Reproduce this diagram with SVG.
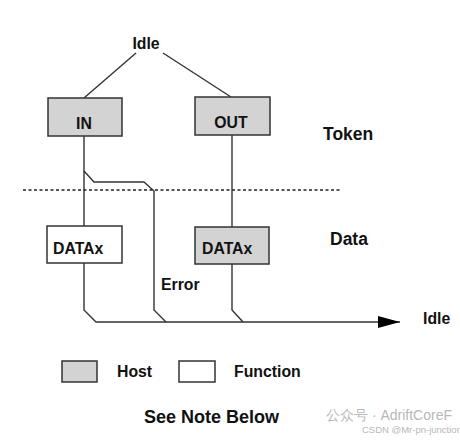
<svg xmlns="http://www.w3.org/2000/svg" width="460" height="441" viewBox="0 0 460 441">
<defs>
<style>
text{font-family:"Liberation Sans",Arial,sans-serif;font-weight:bold;fill:#111}
.box{stroke:#333;stroke-width:1.5}
.host{fill:#d3d3d3}
.func{fill:#fff}
.ln{fill:none;stroke:#333;stroke-width:1.4}
.lbl{font-size:15.8px}
.big{font-size:17.5px}
.wm{font-weight:normal;fill:#b8b8b8}
</style>
<marker id="ah" markerWidth="22" markerHeight="12" refX="22" refY="6" orient="auto" markerUnits="userSpaceOnUse">
<path d="M0,0 L22,6 L0,12 Z" fill="#000"/>
</marker>
</defs>
<rect width="460" height="441" fill="#fff"/>
<g id="connectors">
<path class="ln" d="M136,53 L84,98"/>
<path class="ln" d="M163,53 L231,97"/>
<path class="ln" d="M84,136 L84,226"/>
<path class="ln" d="M84,171 L94,182 L144,182 L154,191 L154,310 L166,322"/>
<path class="ln" d="M232,135 L232,227"/>
<path class="ln" d="M84,263 L84,310 L96,322 L400,322" marker-end="url(#ah)"/>
<path class="ln" d="M232,264 L232,310 L243,322"/>
<line x1="23" y1="190" x2="342" y2="190" stroke="#222" stroke-width="1.3" stroke-dasharray="3,2.5"/>
</g>
<g id="idle-top"><text class="lbl" x="146" y="49" text-anchor="middle">Idle</text></g>
<g id="in"><rect class="box host" x="48" y="98" width="74" height="38"/><text class="lbl" x="84" y="129" text-anchor="middle">IN</text></g>
<g id="out"><rect class="box host" x="195" y="97" width="75" height="38"/><text class="lbl" x="231" y="128" text-anchor="middle">OUT</text></g>
<g id="token"><text class="big" x="323" y="140">Token</text></g>
<g id="datax-func"><rect class="box func" x="47" y="226" width="75" height="37"/><text class="lbl" x="53" y="254">DATAx</text></g>
<g id="datax-host"><rect class="box host" x="195" y="227" width="74" height="37"/><text class="lbl" x="202" y="254">DATAx</text></g>
<g id="data"><text class="big" x="330" y="245">Data</text></g>
<g id="error"><text class="lbl" x="161" y="290">Error</text></g>
<g id="idle-end"><text class="lbl" x="423" y="324">Idle</text></g>
<g id="legend-host"><rect class="box host" x="62" y="361" width="35" height="21"/><text class="lbl" x="117" y="377">Host</text></g>
<g id="legend-function"><rect class="box func" x="179" y="361" width="36" height="21"/><text class="lbl" x="234" y="377">Function</text></g>
<g id="note"><text x="144" y="423" font-size="18">See Note Below</text></g>
<g id="watermark">
<text class="wm" x="326" y="420" font-size="14" font-family="'Liberation Sans','Noto Sans CJK SC',sans-serif">公众号 · AdriftCoreF</text>
<text class="wm" x="362" y="433" font-size="9.5">CSDN @Mr-pn-junctior</text>
</g>
</svg>
